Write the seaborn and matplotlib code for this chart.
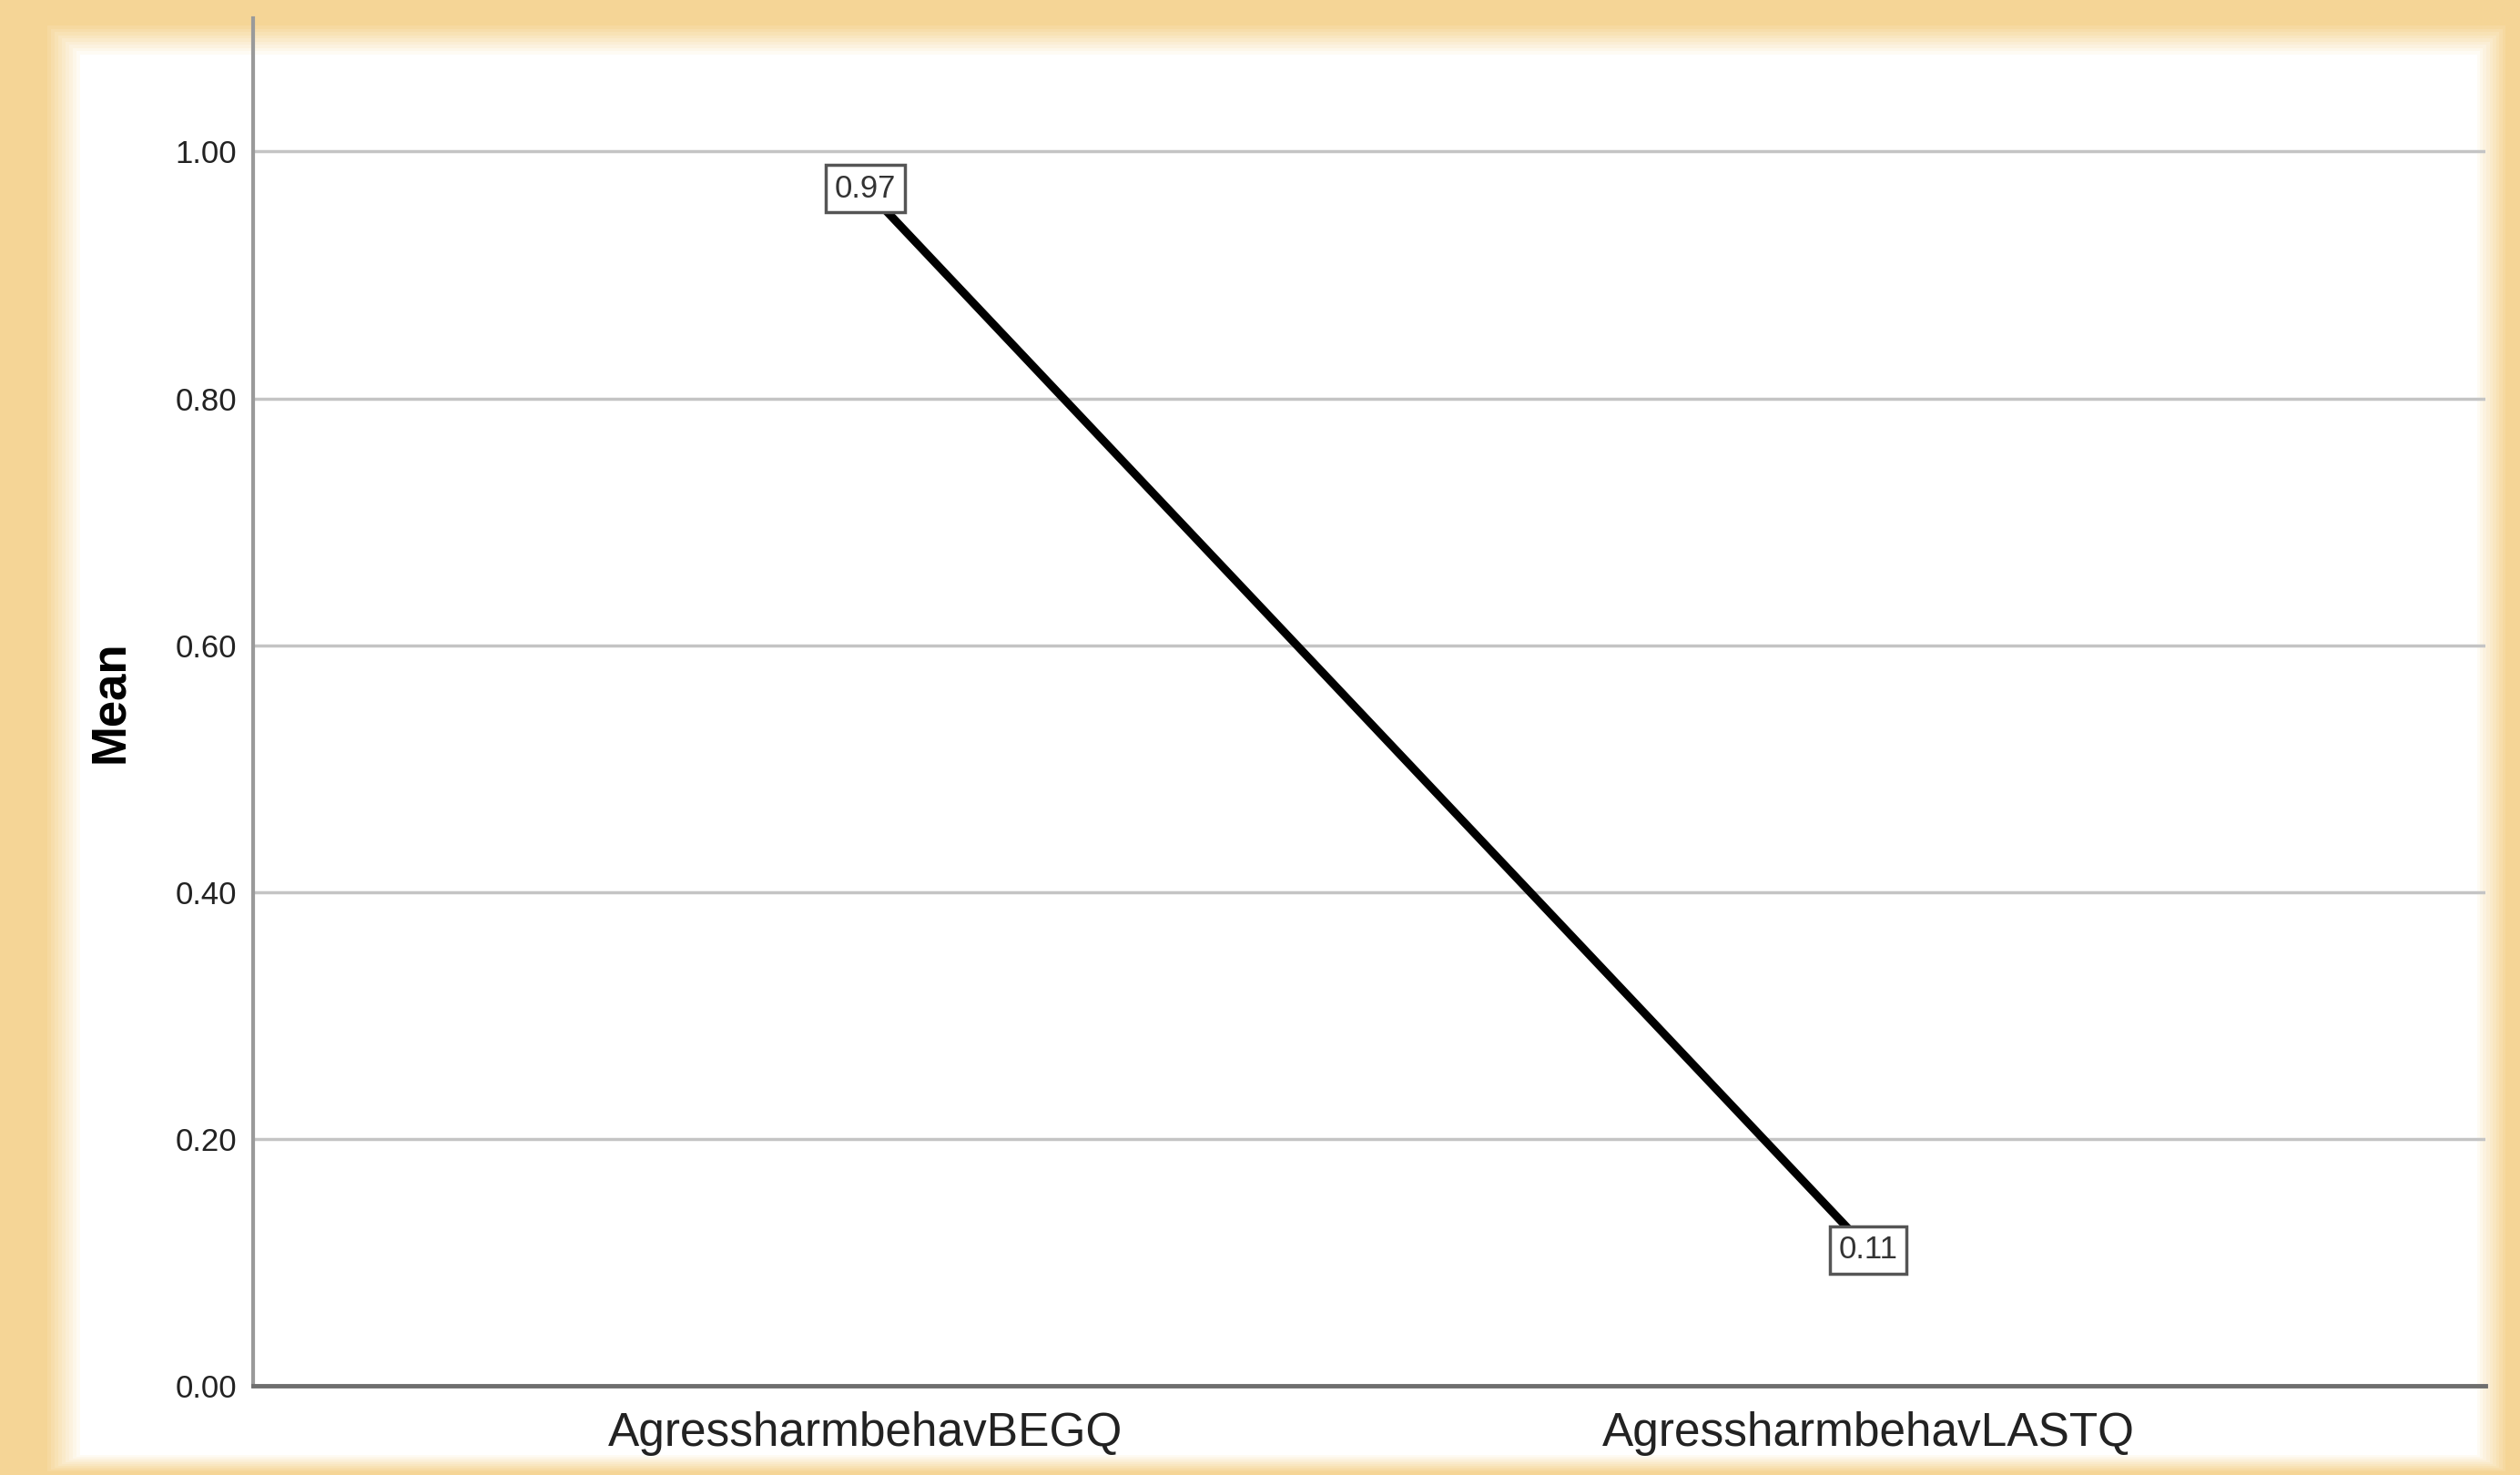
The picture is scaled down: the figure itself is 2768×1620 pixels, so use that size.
import pandas as pd
import matplotlib
matplotlib.use("Agg")
import matplotlib.pyplot as plt
import seaborn as sns
from matplotlib.patches import Rectangle

# data
categories = ["AgressharmbehavBEGQ", "AgressharmbehavLASTQ"]
means = [0.97, 0.11]
yticks = [0.0, 0.2, 0.4, 0.6, 0.8, 1.0]

df = pd.DataFrame({"Variable": categories, "Mean": means})

sns.set_style("white")
plt.rcParams["font.family"] = ["Liberation Sans", "DejaVu Sans"]

W, H = 2768, 1620
fig = plt.figure(figsize=(W / 100, H / 100), dpi=100)
fig.patch.set_facecolor("#F5D596")

# white panel with soft edges (layers from orange to white)
orange = (0.961, 0.835, 0.588)
n = 10
for i in range(n):
    t = (i + 1) / n
    col = tuple(o + (1 - o) * t for o in orange)
    x0 = (52 + i * 4) / W
    x1 = (2752 - i * 3.5) / W
    y0 = 1 - (1616 - i * 2) / H
    y1 = 1 - (28 + i * 3.5) / H
    fig.patches.append(Rectangle((x0, y0), x1 - x0, y1 - y0, transform=fig.transFigure,
                                 facecolor=col, edgecolor="none", zorder=0))

ax = fig.add_axes([278 / W, 1 - 1522 / H, (2730 - 278) / W, (1522 - 20) / H])
ax.set_facecolor("none")
ax.set_zorder(2)

sns.lineplot(data=df, x="Variable", y="Mean", sort=False, color="black",
             linewidth=6.5, ax=ax, zorder=3)

for i, v in enumerate(means):
    ax.text(i, v, f"{v:.2f}", ha="center", va="center", fontsize=25, color="#333333",
            zorder=4,
            bbox=dict(boxstyle="square,pad=0.28", facecolor="white",
                      edgecolor="#555555", linewidth=2.5))

ax.set_xlim(-0.61, 1.615)
ax.set_ylim(0, 1.108)
ax.set_yticks(yticks)
ax.set_yticklabels([f"{t:.2f}" for t in yticks])
ax.yaxis.grid(True, color="#c4c4c4", linewidth=2.5)
ax.xaxis.grid(False)
ax.set_axisbelow(True)

ax.tick_params(axis="y", length=0, pad=13, labelsize=25, labelcolor="#222222")
ax.tick_params(axis="x", length=0, pad=20, labelsize=37, labelcolor="#222222")

for s in ["top", "right"]:
    ax.spines[s].set_visible(False)
ax.spines["left"].set_color("#9a9a9a")
ax.spines["left"].set_linewidth(3)
ax.spines["bottom"].set_color("#6e6e6e")
ax.spines["bottom"].set_linewidth(3.5)

ax.set_xlabel("")
ax.set_ylabel("Mean", fontsize=38, fontweight="bold", color="black")
ax.yaxis.set_label_coords(-0.054, 0.5)

fig.savefig("out.png", dpi=100, facecolor=fig.get_facecolor())
